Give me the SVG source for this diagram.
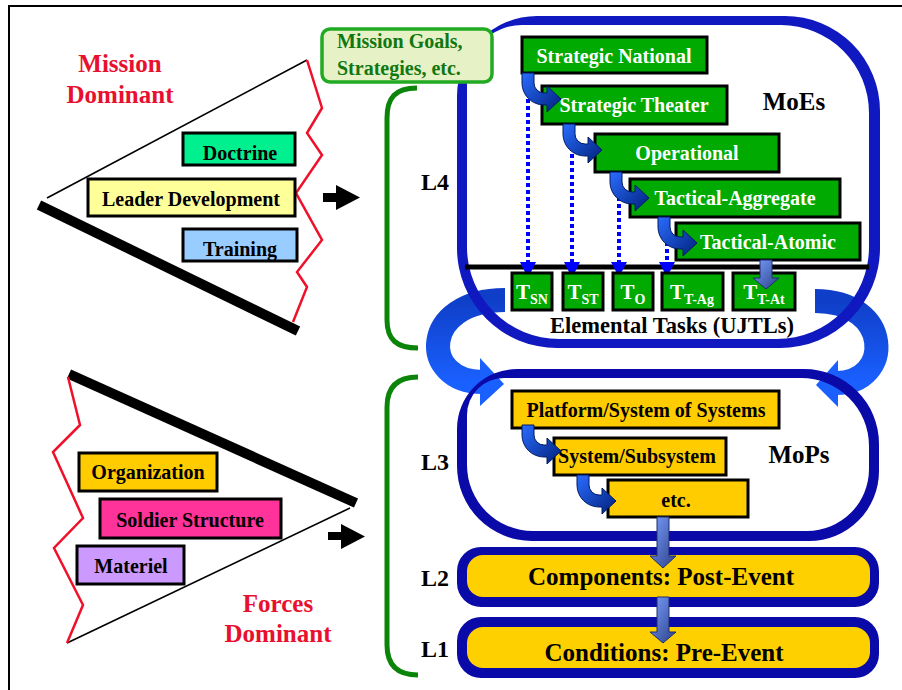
<svg xmlns="http://www.w3.org/2000/svg" width="902" height="690" viewBox="0 0 902 690">
<style>
text{font-family:"Liberation Serif","Times New Roman",serif;font-weight:bold}
.bx{stroke:#000;stroke-width:3}
.lbl{font-size:20px;text-anchor:middle;fill:#000}
.wl{font-size:20px;text-anchor:middle;fill:#fff}
.red{font-size:25px;text-anchor:middle;fill:#e8102e}
.big{font-size:25px;text-anchor:middle;fill:#000}
.lv{font-size:24px;fill:#000}
.zig{fill:none;stroke:#f0102a;stroke-width:2.5;stroke-linejoin:miter}
.grn{fill:#00aa00}
.yel{fill:#ffcc00}
.brk{fill:none;stroke:#0a850a;stroke-width:5}
.dot{stroke:#0000ff;stroke-width:4;stroke-dasharray:4 3}
.dh{fill:#0000ff}
.bend{fill:url(#gb);stroke:#001a66;stroke-width:1}
.down{fill:url(#gd);stroke:#1f2f6f;stroke-width:1}
.ts{font-size:21px;fill:#fff;text-anchor:middle}
.ts tspan{font-size:14px}
</style>
<defs>
<linearGradient id="gb" x1="0" y1="0" x2="1" y2="1">
<stop offset="0" stop-color="#2a6cff"/><stop offset="1" stop-color="#00207a"/>
</linearGradient>
<linearGradient id="gd" x1="0" y1="0" x2="1" y2="1">
<stop offset="0" stop-color="#7aa0ff"/><stop offset="1" stop-color="#2c3f88"/>
</linearGradient>
<linearGradient id="gc" x1="0" y1="0" x2="0" y2="1">
<stop offset="0" stop-color="#0f3fc8"/><stop offset="1" stop-color="#1a60ff"/>
</linearGradient>
<path id="bent" d="M0,0 H12 V10 A10,10 0 0 0 22,20 H25 V13 L39,26 L25,39 V32 H22 A22,22 0 0 1 0,10 Z"/>
</defs>

<!-- frame -->
<path d="M9,690 V6 H902" fill="none" stroke="#000" stroke-width="2"/>

<!-- Mission dominant wedge -->
<g id="mission-wedge">
<line x1="47" y1="198" x2="307" y2="60" stroke="#000" stroke-width="1.6"/>
<line x1="39" y1="205" x2="298" y2="331" stroke="#000" stroke-width="10"/>
<polyline class="zig" points="307,60 322,108 307,133 322,155 296,193 322,240 297,272 307,287 293,322"/>
<text class="red" x="120" y="72">Mission</text>
<text class="red" x="120" y="103">Dominant</text>
</g>
<g id="doctrine"><rect class="bx" x="183" y="133" width="112" height="32" fill="#00f090"/><text class="lbl" x="240" y="160">Doctrine</text></g>
<g id="leader"><rect class="bx" x="88" y="179" width="207" height="37" fill="#ffff99"/><text class="lbl" x="191" y="206">Leader Development</text></g>
<g id="training"><rect class="bx" x="183" y="229" width="114" height="32" fill="#99ccff"/><text class="lbl" x="240" y="256">Training</text></g>

<!-- Forces dominant wedge -->
<g id="forces-wedge">
<line x1="350" y1="508" x2="67" y2="643" stroke="#000" stroke-width="1.6"/>
<line x1="69" y1="374" x2="356" y2="503" stroke="#000" stroke-width="10"/>
<polyline class="zig" points="68,377 80,425 53,452 83,518 54,548 83,605 67,643"/>
<text class="red" x="278" y="612">Forces</text>
<text class="red" x="278" y="642">Dominant</text>
</g>
<g id="organization"><rect class="bx" x="79" y="453" width="138" height="38" fill="#ffcc00"/><text class="lbl" x="148" y="479">Organization</text></g>
<g id="soldier"><rect class="bx" x="100" y="499" width="181" height="39" fill="#ff3399"/><text class="lbl" x="190" y="527">Soldier Structure</text></g>
<g id="materiel"><rect class="bx" x="77" y="546" width="107" height="38" fill="#cc99ff"/><text class="lbl" x="131" y="573">Materiel</text></g>

<!-- connectors -->
<g id="connectors">
<path d="M323,193 H336 V185 L360,197.5 L336,210 V202 H323 Z" fill="#000"/>
<path d="M328,532 H341 V524 L365,536.5 L341,549 V540 H328 Z" fill="#000"/>
<path class="brk" d="M417,88 C395,88 387,98 387,118 V320 C387,340 397,348 418,348"/>
<path class="brk" d="M418,377 C397,377 387,387 387,407 V645 C387,665 397,675 418,675"/>
<!-- big curved arrows -->
<path d="M505,300 C420,300 420,382 482,382" fill="none" stroke="url(#gc)" stroke-width="24"/>
<polygon points="480,358 504,384 480,406" fill="#1a60ff"/>
<path d="M815,301 C893,301 893,383 836,383" fill="none" stroke="url(#gc)" stroke-width="24"/>
<polygon points="838,360 816,385 838,407" fill="#1a60ff"/>
</g>

<!-- rings -->
<g id="moe-ring">
<path fill-rule="evenodd" fill="#1018c0" d="M537,16 H785 A95,95 0 0 1 880,111 V248 A100,100 0 0 1 780,348 H557 A100,100 0 0 1 457,248 V96 A80,80 0 0 1 537,16 Z M522,25 H781 A88,88 0 0 1 869,113 V247 A92,92 0 0 1 777,339 H559 A92,92 0 0 1 467,247 V80 A55,55 0 0 1 522,25 Z"/>
</g>
<g id="mop-ring">
<path fill-rule="evenodd" fill="#0a0aa8" d="M517,369 H804 A75,75 0 0 1 879,444 V471 A70,70 0 0 1 809,541 H532 A75,75 0 0 1 457,466 V429 A60,60 0 0 1 517,369 Z M504,378 H801 A68,68 0 0 1 869,446 V469 A62,62 0 0 1 807,531 H533 A66,66 0 0 1 467,465 V415 A37,37 0 0 1 504,378 Z"/>
</g>

<g id="mission-goals">
<rect x="322" y="29" width="170" height="53" rx="8" fill="#e6f2c6" stroke="#22aa22" stroke-width="3.5"/>
<text x="337" y="48" font-size="20" fill="#117711">Mission Goals,</text>
<text x="337" y="75" font-size="20" fill="#117711">Strategies, etc.</text>
</g>

<!-- dotted links -->
<g id="dotted">
<line class="dot" x1="528" y1="92" x2="528" y2="264"/>
<line class="dot" x1="572" y1="140" x2="572" y2="264"/>
<line class="dot" x1="619" y1="190" x2="619" y2="264"/>
<line class="dot" x1="667" y1="235" x2="667" y2="264"/>
</g>
<line x1="465" y1="267" x2="869" y2="267" stroke="#000" stroke-width="5"/>
<g id="dot-heads">
<polygon class="dh" points="520,262 536,262 528,278"/>
<polygon class="dh" points="564,262 580,262 572,278"/>
<polygon class="dh" points="611,262 627,262 619,277"/>
<polygon class="dh" points="659,262 675,262 667,277"/>
</g>

<g id="strategic-national"><rect class="bx grn" x="522" y="37" width="185" height="36"/><text class="wl" x="614" y="63">Strategic National</text></g>
<g id="strategic-theater"><rect class="bx grn" x="542" y="86" width="185" height="38"/><text class="wl" x="634" y="112">Strategic Theater</text></g>
<g id="operational"><rect class="bx grn" x="595" y="134" width="184" height="38"/><text class="wl" x="687" y="160">Operational</text></g>
<g id="tactical-aggregate"><rect class="bx grn" x="630" y="179" width="210" height="38"/><text class="wl" x="735" y="205">Tactical-Aggregate</text></g>
<g id="tactical-atomic"><rect class="bx grn" x="676" y="223" width="184" height="37"/><text class="wl" x="768" y="249">Tactical-Atomic</text></g>

<g id="bent-arrows">
<use href="#bent" class="bend" transform="translate(522,73)"/>
<use href="#bent" class="bend" transform="translate(563,124)"/>
<use href="#bent" class="bend" transform="translate(610,172)"/>
<use href="#bent" class="bend" transform="translate(658,217)"/>
</g>

<text class="big" x="794" y="110">MoEs</text>

<g id="t-sn"><rect class="bx grn" x="512" y="273" width="40" height="37"/><text class="ts" x="532" y="299">T<tspan dy="5">SN</tspan></text></g>
<g id="t-st"><rect class="bx grn" x="563" y="273" width="40" height="37"/><text class="ts" x="583" y="299">T<tspan dy="5">ST</tspan></text></g>
<g id="t-o"><rect class="bx grn" x="613" y="273" width="40" height="37"/><text class="ts" x="633" y="299">T<tspan dy="5">O</tspan></text></g>
<g id="t-tag"><rect class="bx grn" x="662" y="273" width="61" height="37"/><text class="ts" x="692" y="299">T<tspan dy="5">T-Ag</tspan></text></g>
<g id="t-tat"><rect class="bx grn" x="733" y="273" width="62" height="37"/><text class="ts" x="764" y="299">T<tspan dy="5">T-At</tspan></text></g>
<path class="down" d="M760,260 H772 V278 H779 L766,289 L753,278 H760 Z"/>
<text x="672" y="333" font-size="22.5" text-anchor="middle" fill="#000">Elemental Tasks (UJTLs)</text>

<g id="platform"><rect class="bx yel" x="512" y="391" width="267" height="37"/><text class="lbl" x="646" y="417">Platform/System of Systems</text></g>
<g id="subsystem"><rect class="bx yel" x="554" y="438" width="172" height="37"/><text class="lbl" x="637" y="463">System/Subsystem</text></g>
<g id="etc"><rect class="bx yel" x="608" y="480" width="140" height="37"/><text class="lbl" x="676" y="507">etc.</text></g>
<use href="#bent" class="bend" transform="translate(522,425)"/>
<use href="#bent" class="bend" transform="translate(577,475)"/>
<text class="big" x="799" y="463">MoPs</text>

<g id="components">
<rect x="457" y="547" width="422" height="60" rx="24" fill="#0a0aa8"/>
<rect x="467" y="555" width="403" height="42" rx="16" fill="#ffd000"/>
<text class="big" x="661" y="585">Components: Post-Event</text>
</g>
<g id="conditions">
<rect x="457" y="617" width="422" height="61" rx="24" fill="#0a0aa8"/>
<rect x="467" y="627" width="403" height="41" rx="16" fill="#ffd000"/>
<text class="big" x="664" y="661">Conditions: Pre-Event</text>
</g>
<path class="down" d="M657,517 H669 V556 H676 L663,568 L650,556 H657 Z"/>
<path class="down" d="M657,597 H669 V632 H676 L663,643 L650,632 H657 Z"/>

<text class="lv" x="421" y="190">L4</text>
<text class="lv" x="421" y="470">L3</text>
<text class="lv" x="421" y="586">L2</text>
<text class="lv" x="421" y="657">L1</text>
</svg>
